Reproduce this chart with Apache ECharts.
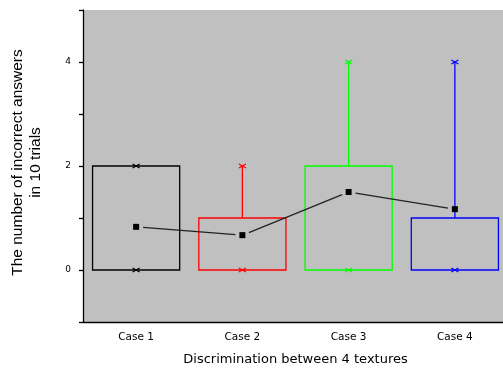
<!DOCTYPE html>
<html>
<head>
<meta charset="utf-8">
<script src="https://cdn.jsdelivr.net/npm/echarts@6/dist/echarts.min.js"></script>
<style>html,body{margin:0;padding:0;background:#fff;overflow:hidden;}#c{width:508px;height:371px;}</style>
</head>
<body>
<div id="c"></div>
<script>
var categories = ['Case 1', 'Case 2', 'Case 3', 'Case 4'];
var boxLow = [0, 0, 0, 0];
var boxHigh = [2, 1, 2, 1];
var whiskerMax = [2, 2, 4, 4];
var whiskerMin = [0, 0, 0, 0];
var means = [0.83, 0.67, 1.5, 1.17];
var yTicks = [0, 2, 4];

var colors = ['#000000', '#ff0000', '#00ff00', '#0000ff'];

var chart = echarts.init(document.getElementById('c'), null, {renderer: 'canvas'});

var boxData = categories.map(function (c, i) {
  return [i, boxLow[i], boxHigh[i], whiskerMin[i], whiskerMax[i]];
});
var meanData = categories.map(function (c, i) { return [i, means[i]]; });

function xMark(p, color) {
  return [
    {type: 'line', shape: {x1: p[0] - 3.5, y1: p[1] - 2, x2: p[0] + 3.5, y2: p[1] + 2}, style: {stroke: color, lineWidth: 1.2}},
    {type: 'line', shape: {x1: p[0] - 3.5, y1: p[1] + 2, x2: p[0] + 3.5, y2: p[1] - 2}, style: {stroke: color, lineWidth: 1.2}}
  ];
}

var option = {
  animation: false,
  grid: {left: 83, right: 0, top: 10, bottom: 49, show: true, backgroundColor: '#c0c0c0', borderWidth: 0},
  xAxis: {
    type: 'category',
    data: categories,
    boundaryGap: true,
    axisLine: {onZero: false, lineStyle: {color: '#000', width: 1.3}},
    axisTick: {alignWithLabel: true, length: 5, lineStyle: {color: '#000', width: 1.3}},
    axisLabel: {color: '#000', fontFamily: 'DejaVu Sans', fontSize: 10.5, margin: 10},
    splitLine: {show: false},
    name: 'Discrimination between 4 textures',
    nameLocation: 'middle',
    nameGap: 31,
    nameTextStyle: {color: '#000', fontFamily: 'DejaVu Sans', fontSize: 13}
  },
  yAxis: {
    type: 'value',
    min: -1,
    max: 5,
    interval: 1,
    axisLine: {show: true, onZero: false, lineStyle: {color: '#000', width: 1.3}},
    axisTick: {show: true, length: 4, lineStyle: {color: '#000', width: 1.3}},
    axisLabel: {
      color: '#000', fontFamily: 'DejaVu Sans', fontSize: 9, margin: 12,
      formatter: function (v) { return yTicks.indexOf(v) >= 0 ? String(v) : ''; }
    },
    splitLine: {show: false},
    name: 'The number of incorrect answers\nin 10 trials',
    nameLocation: 'middle',
    nameGap: 38,
    nameTextStyle: {color: '#000', fontFamily: 'Liberation Sans', fontSize: 15.5, lineHeight: 18, padding: [0, 0, 0, 7]}
  },
  series: [
    {
      type: 'custom',
      data: boxData,
      renderItem: function (params, api) {
        var i = api.value(0);
        var color = colors[i];
        var band = api.size([1, 0])[0];
        var w = band * 0.82;
        var lo = api.coord([i, api.value(1)]);
        var hi = api.coord([i, api.value(2)]);
        var wmin = api.coord([i, api.value(3)]);
        var wmax = api.coord([i, api.value(4)]);
        var children = [];
        children.push({type: 'rect', shape: {x: lo[0] - w / 2, y: hi[1], width: w, height: lo[1] - hi[1]},
          style: {fill: 'none', stroke: color, lineWidth: 1.3}});
        if (wmax[1] < hi[1]) {
          children.push({type: 'line', shape: {x1: hi[0], y1: hi[1], x2: wmax[0], y2: wmax[1]}, style: {stroke: color, lineWidth: 1.3}});
        }
        if (wmin[1] > lo[1]) {
          children.push({type: 'line', shape: {x1: lo[0], y1: lo[1], x2: wmin[0], y2: wmin[1]}, style: {stroke: color, lineWidth: 1.3}});
        }
        children = children.concat(xMark(wmax, color)).concat(xMark(wmin, color));
        return {type: 'group', children: children};
      },
      z: 2
    },
    {
      type: 'custom',
      data: meanData,
      renderItem: function (params, api) {
        var i = api.value(0);
        var p = api.coord([i, api.value(1)]);
        var children = [{type: 'rect', shape: {x: p[0] - 3, y: p[1] - 3, width: 6, height: 6}, style: {fill: '#000'}}];
        if (i < means.length - 1) {
          var q = api.coord([i + 1, means[i + 1]]);
          var dx = q[0] - p[0], dy = q[1] - p[1];
          var L = Math.sqrt(dx * dx + dy * dy);
          var g = 7;
          children.push({type: 'line', shape: {x1: p[0] + dx * g / L, y1: p[1] + dy * g / L, x2: q[0] - dx * g / L, y2: q[1] - dy * g / L},
            style: {stroke: '#222', lineWidth: 1.3}});
        }
        return {type: 'group', children: children};
      },
      z: 3
    }
  ]
};
chart.setOption(option);
</script>
</body>
</html>
